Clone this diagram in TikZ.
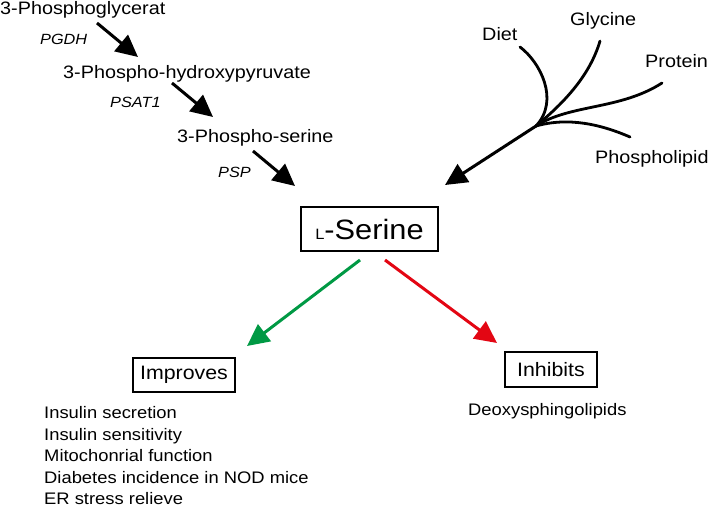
\documentclass[tikz,border=0pt]{standalone}
\usepackage{fontspec}
\setmainfont{Liberation Sans}[FakeStretch=1.1]
\usetikzlibrary{arrows.meta}

\definecolor{improvegreen}{RGB}{0,153,68}
\definecolor{inhibitred}{RGB}{227,6,19}

\begin{document}
\begin{tikzpicture}[x=1pt,y=-1pt,
    pathtext/.style={anchor=base west,inner sep=0pt,font=\fontsize{18}{21}\selectfont},
    enzyme/.style={anchor=base west,inner sep=0pt,font=\fontsize{14.8}{17}\selectfont\itshape},
    effecttext/.style={anchor=base west,inner sep=0pt,font=\fontsize{16.7}{20}\selectfont},
    effectbox/.style={draw,line width=1.4pt,inner sep=0pt,font=\fontsize{19.4}{22}\selectfont},
    pathway/.style={line width=3pt,-{Triangle[length=22pt,width=21pt]}},
    branch/.style={line width=2.8pt,line cap=round}]
        \useasboundingbox (0,0) rectangle (709,509);

        % Synthesis pathway
        \node[pathtext] (glycerat) at (0,14) {3-Phosphoglycerat};
        \node[enzyme] (pgdh) at (40,44) {PGDH};
        \node[pathtext] (pyruvate) at (63,78) {3-Phospho-hydroxypyruvate};
        \node[enzyme] (psat) at (110,107) {PSAT1};
        \node[pathtext] (phserine) at (177,142) {3-Phospho-serine};
        \node[enzyme] (psp) at (218,177) {PSP};

        % Central box
        \node[draw,line width=1.4pt,minimum width=137pt,minimum height=44pt,inner sep=0pt] (serine) at (369.5,229)
            {{\fontsize{15}{15}\selectfont L}{\fontsize{28}{30}\selectfont -Serine}};

        % Arrow ends
        \coordinate (a1) at (97,23);
        \coordinate (b1) at (138,57);
        \coordinate (a2) at (172,83);
        \coordinate (b2) at (213,117);
        \coordinate (a3) at (253,151);
        \coordinate (b3) at (295,186);

        \draw[pathway] (a1) -- (b1);
        \draw[pathway] (a2) -- (b2);
        \draw[pathway] (a3) -- (b3);

        % Sources
        \node[pathtext] (diet) at (482,40) {Diet};
        \node[pathtext] (glycine) at (570,25) {Glycine};
        \node[pathtext] (protein) at (645,67) {Protein};
        \node[pathtext] (lipid) at (595,163) {Phospholipid};

        \coordinate (junction) at (536,126);
        \coordinate (dietend) at (520,47);
        \coordinate (glycineend) at (600,41);
        \coordinate (proteinend) at (662,83);
        \coordinate (lipidend) at (630,137);
        \coordinate (sourcetip) at (445,185);

        \draw[branch] (dietend) .. controls (540,62) and (560,100) .. (junction);
        \draw[branch] (glycineend) .. controls (590,75) and (565,102) .. (junction);
        \draw[branch] (proteinend) .. controls (620,110) and (570,104) .. (junction);
        \draw[branch] (lipidend) .. controls (600,124) and (568,117) .. (junction);
        \draw[pathway] (junction) -- (sourcetip);

        % Effects
        \node[effectbox,minimum width=102pt,minimum height=34pt] (improves) at (184,375) {Improves};
        \node[effectbox,minimum width=92pt,minimum height=35pt] (inhibits) at (551,369.5) {Inhibits};

        \coordinate (greenfrom) at (360,260);
        \coordinate (greento) at (247,346);
        \coordinate (redfrom) at (385,260);
        \coordinate (redto) at (497,343);
        \draw[pathway,improvegreen] (greenfrom) -- (greento);
        \draw[pathway,inhibitred] (redfrom) -- (redto);

        \foreach \txt [count=\i] in {Insulin secretion,Insulin sensitivity,Mitochonrial function,Diabetes incidence in NOD mice,ER stress relieve}
            \node[effecttext] (improve\i) at (44,397+21.5*\i) {\txt};
        \node[effecttext] (deoxy) at (468,415) {Deoxysphingolipids};
    \end{tikzpicture}
\end{document}
